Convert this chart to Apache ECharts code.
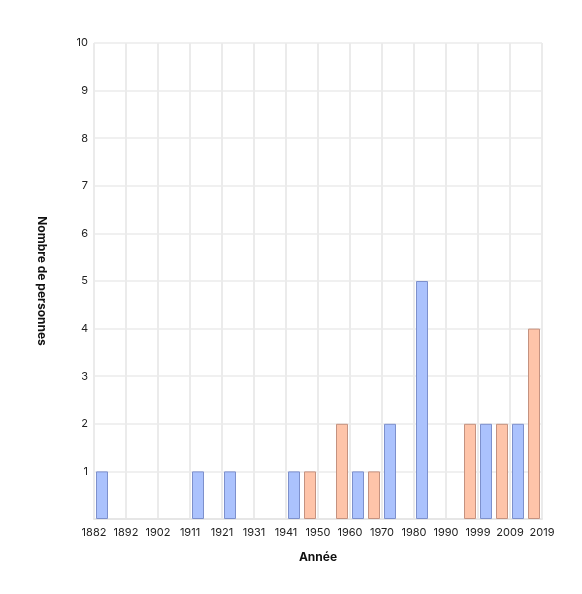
<!DOCTYPE html>
<html><head><meta charset="utf-8">
<script src="https://cdn.jsdelivr.net/npm/echarts@6/dist/echarts.min.js"></script>
<style>html,body{margin:0;padding:0;background:#fff}#c{width:582px;height:594px}</style>
</head><body><div id="c"></div>
<script>
// 28 bins from 1882 to 2019 (index 0..27)
var xTickLabels = ['1882','1892','1902','1911','1921','1931','1941','1950','1960','1970','1980','1990','1999','2009','2019'];
var blueValues =   [1,0,0,0,0,0,1,0,1,0,0,0,1,0,0,0,1,0,2,0,5,0,0,0,2,0,2,0];
var orangeValues = [0,0,0,0,0,0,0,0,0,0,0,0,0,1,0,2,0,1,0,0,0,0,0,2,0,2,0,4];
var yTickLabels = ['', '1','2','3','4','5','6','7','8','9','10'];

function toData(arr){
  var out = [];
  arr.forEach(function(v,i){ if(v>0) out.push([i+0.5, v]); });
  return out;
}
var font = 'Inter, "Noto Sans", sans-serif';
var chart = echarts.init(document.getElementById('c'));
chart.setOption({
  animation:false,
  backgroundColor:'#fff',
  grid:{left:94,right:40,top:43,bottom:75,containLabel:false},
  xAxis:{
    type:'value', min:0, max:28, interval:2,
    name:'Année', nameLocation:'middle', nameGap:32,
    nameTextStyle:{fontFamily:font,fontWeight:'bold',fontSize:12,color:'#111'},
    axisLine:{show:true,lineStyle:{color:'#e6e6e6',width:2}},
    axisTick:{show:false},
    axisLabel:{fontFamily:font,fontSize:11,color:'#222',margin:8,
      formatter:function(v){return xTickLabels[Math.round(v/2)];}},
    splitLine:{show:true,lineStyle:{color:'#ebebeb',width:2}}
  },
  yAxis:{
    type:'value', min:0, max:10, interval:1,
    name:'Nombre de personnes', nameLocation:'middle', nameGap:46, nameRotate:-90,
    nameTextStyle:{fontFamily:font,fontWeight:'bold',fontSize:12,color:'#111'},
    axisLine:{show:false}, axisTick:{show:false},
    axisLabel:{fontFamily:font,fontSize:11,color:'#222',margin:6,
      formatter:function(v){return yTickLabels[Math.round(v)];}},
    splitLine:{show:true,lineStyle:{color:'#ebebeb',width:1.5}}
  },
  series:[
    {type:'bar', data:toData(blueValues), barWidth:12, barGap:'-100%',
     itemStyle:{color:'#abc2fd',borderColor:'#7d90cc',borderWidth:1}},
    {type:'bar', data:toData(orangeValues), barWidth:12, barGap:'-100%',
     itemStyle:{color:'#fec4a9',borderColor:'#c49280',borderWidth:1}}
  ]
});
</script></body></html>
